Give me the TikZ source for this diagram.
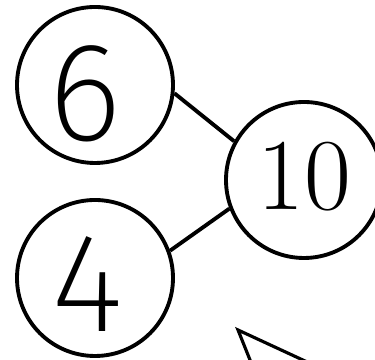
\documentclass[tikz,border=0pt]{standalone}
\usepackage{fontspec}
\usetikzlibrary{calc, positioning}
\newfontfamily\handfont{Fira Sans ExtraLight}

\begin{document}
\begin{tikzpicture}[
    bond/.style={circle, draw, line width=2.2pt, minimum size=3.12cm, inner sep=0pt},
    hand/.style={inner sep=0pt, text depth=0pt, font=\handfont\fontsize{80}{80}\selectfont},
    link/.style={line width=2.2pt}
  ]
  \useasboundingbox (0,0) rectangle (7.5,7.2);
  \clip (0,0) rectangle (7.5,7.2);

  \node[bond] (six) at (1.9,5.5) {};
  \node[bond] (four) at (1.9,1.64) {};
  \node[bond] (ten) at (6.08,3.6) {};

  \node[hand] (sixlbl) at (1.7,5.34) {6};
  \node[hand] (fourlbl) at (1.76,1.52) {4};
  \node[inner sep=0pt, text depth=0pt, font=\fontsize{58}{58}\selectfont] (tenlbl) at (6.08,3.68) {10};

  \draw[link] (six.-6) -- (ten.151);
  \draw[link] (four.20) -- (ten.201);

  \draw[line width=1.8pt, line join=miter] (5.16,-0.4) -- (4.76,0.6) -- (6.92,-0.4);
\end{tikzpicture}
\end{document}
